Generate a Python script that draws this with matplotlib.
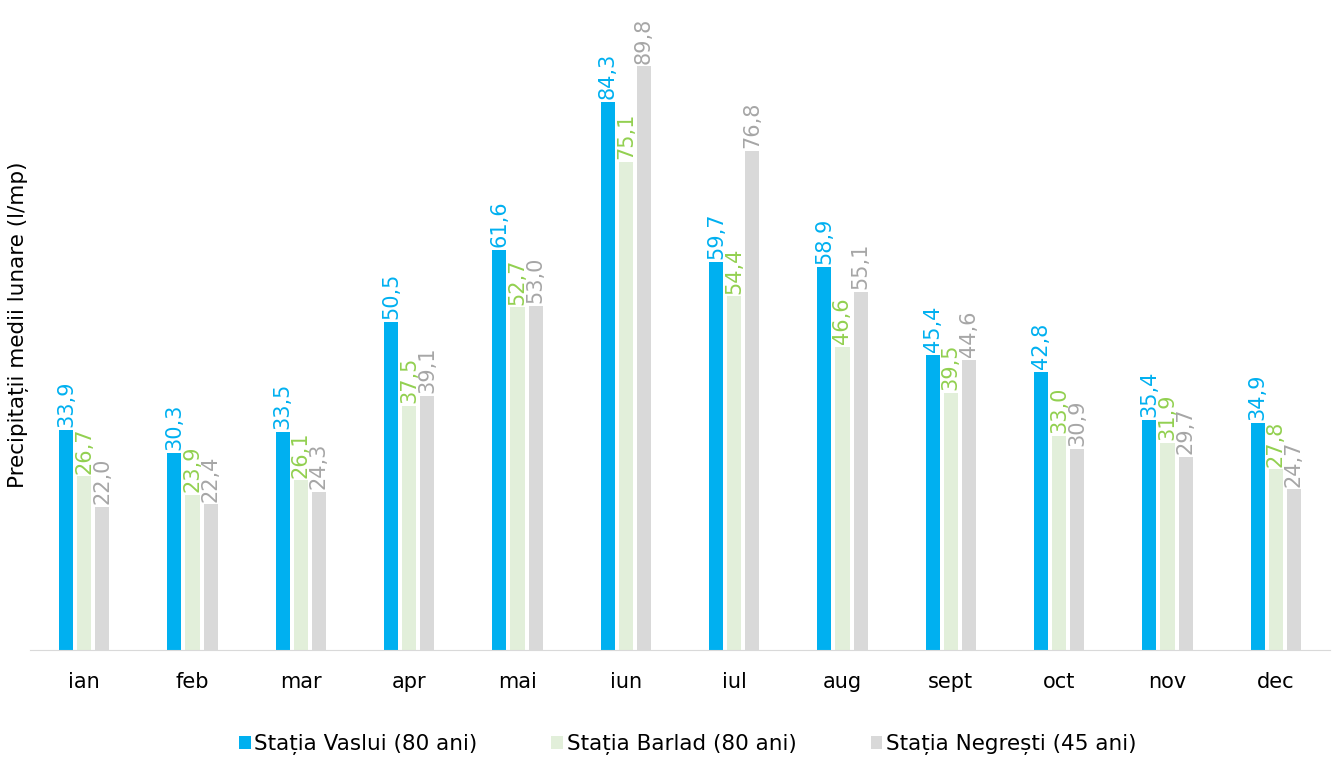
import matplotlib.pyplot as plt
import numpy as np

luni = ["ian", "feb", "mar", "apr", "mai", "iun", "iul", "aug", "sept", "oct", "nov", "dec"]
vaslui = [33.9, 30.3, 33.5, 50.5, 61.6, 84.3, 59.7, 58.9, 45.4, 42.8, 35.4, 34.9]
barlad = [26.7, 23.9, 26.1, 37.5, 52.7, 75.1, 54.4, 46.6, 39.5, 33.0, 31.9, 27.8]
negresti = [22.0, 22.4, 24.3, 39.1, 53.0, 89.8, 76.8, 55.1, 44.6, 30.9, 29.7, 24.7]
serii = ["Stația Vaslui (80 ani)", "Stația Barlad (80 ani)", "Stația Negrești (45 ani)"]

plt.rcParams['font.family'] = ['DejaVu Sans']

fig = plt.figure(figsize=(13.35, 7.58), dpi=100)
ax = fig.add_axes([30/1335, 108/758, 1300/1335, 650/758])

x = np.arange(len(luni))
w = 0.13
step = 0.167
bar_cols = ["#00B0F0", "#E2EFDA", "#D9D9D9"]
lbl_cols = ["#00B0F0", "#92D050", "#A6A6A6"]

for i, (vals, name) in enumerate(zip([vaslui, barlad, negresti], serii)):
    pos = x + (i - 1) * step
    ax.bar(pos, vals, w, color=bar_cols[i], label=name)
    for p, v in zip(pos, vals):
        ax.annotate(f"{v:.1f}".replace('.', ','), (p, v), xytext=(0, 2),
                    textcoords="offset points", rotation=90, ha="center", va="bottom",
                    color=lbl_cols[i], fontsize=15)

ax.set_xlim(-0.5, 11.5)
ax.set_ylim(0, 100)
ax.set_xticks(x)
ax.set_xticklabels(luni, fontsize=15)
ax.tick_params(axis='x', length=0, pad=16)
ax.set_yticks([])
for s in ["top", "right", "left"]:
    ax.spines[s].set_visible(False)
ax.spines["bottom"].set_color("#D9D9D9")

# titlul axei y
fig.text(19/1335, 1 - 325/758, "Precipitații medii lunare (l/mp)", rotation=90,
         ha="center", va="center", fontsize=15.5)

fig.legend(loc="lower center", ncol=3, frameon=False, fontsize=15.5,
           bbox_to_anchor=(0.515, -0.022), handlelength=0.55, handleheight=0.55,
           handletextpad=0.15, columnspacing=3.45)

fig.savefig("out.png", dpi=100)
